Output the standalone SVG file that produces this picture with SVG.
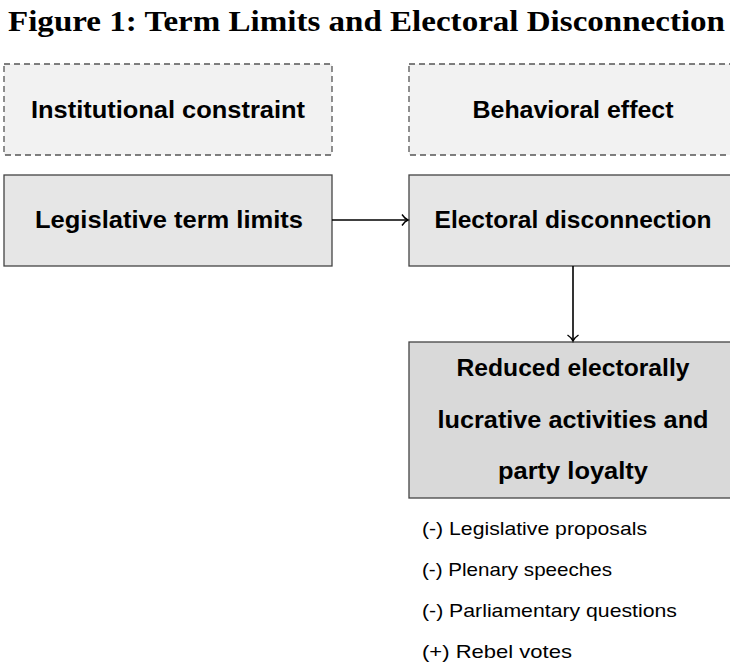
<svg xmlns="http://www.w3.org/2000/svg" width="730" height="665" viewBox="0 0 730 665">
<style>
.title{font-family:"Liberation Serif","Times New Roman",serif;font-weight:bold;font-size:30px;fill:#000}
.lbl{font-family:"Liberation Sans",Arial,sans-serif;font-weight:bold;font-size:24px;fill:#000;text-anchor:middle}
.item{font-family:"Liberation Sans",Arial,sans-serif;font-size:19px;fill:#000}
.hdr{fill:#f2f2f2;stroke:#555;stroke-width:1.3;stroke-dasharray:6,4}
.box{stroke:#444;stroke-width:1.3}
.conn{stroke:#000;stroke-width:1.6;fill:none}
</style>
<defs>
<marker id="arr" markerWidth="10" markerHeight="12" refX="8" refY="6" orient="auto" markerUnits="userSpaceOnUse">
<path d="M2,0.5 Q5,5 8,6 Q5,7 2,11.5" fill="none" stroke="#000" stroke-width="1.4"/>
</marker>
</defs>
<rect width="730" height="665" fill="#fff"/>
<text class="title" x="8" y="31" textLength="717" lengthAdjust="spacingAndGlyphs">Figure 1: Term Limits and Electoral Disconnection</text>
<g id="institutional-constraint">
<rect class="hdr" x="4" y="64" width="328" height="91"/>
<text class="lbl" x="168" y="118" textLength="274" lengthAdjust="spacingAndGlyphs">Institutional constraint</text>
</g>
<g id="behavioral-effect">
<rect class="hdr" x="409" y="64" width="328" height="91"/>
<text class="lbl" x="573" y="118" textLength="201" lengthAdjust="spacingAndGlyphs">Behavioral effect</text>
</g>
<g id="legislative-term-limits">
<rect class="box" x="4" y="175" width="328" height="91" fill="#e6e6e6"/>
<text class="lbl" x="169" y="228" textLength="268" lengthAdjust="spacingAndGlyphs">Legislative term limits</text>
</g>
<g id="electoral-disconnection">
<rect class="box" x="409" y="175" width="328" height="91" fill="#e6e6e6"/>
<text class="lbl" x="573" y="228" textLength="277" lengthAdjust="spacingAndGlyphs">Electoral disconnection</text>
</g>
<g id="reduced-activities">
<rect class="box" x="409" y="342" width="328" height="156" fill="#d9d9d9"/>
<text class="lbl" x="573" y="376" textLength="233" lengthAdjust="spacingAndGlyphs">Reduced electorally</text>
<text class="lbl" x="573" y="428" textLength="271" lengthAdjust="spacingAndGlyphs">lucrative activities and</text>
<text class="lbl" x="573" y="479" textLength="150" lengthAdjust="spacingAndGlyphs">party loyalty</text>
</g>
<g id="outcomes">
<text class="item" x="422" y="535" textLength="225" lengthAdjust="spacingAndGlyphs">(-) Legislative proposals</text>
<text class="item" x="422" y="576" textLength="190" lengthAdjust="spacingAndGlyphs">(-) Plenary speeches</text>
<text class="item" x="422" y="617" textLength="255" lengthAdjust="spacingAndGlyphs">(-) Parliamentary questions</text>
<text class="item" x="422" y="658" textLength="150" lengthAdjust="spacingAndGlyphs">(+) Rebel votes</text>
</g>
<g id="connectors">
<line class="conn" x1="332" y1="220" x2="408" y2="220" marker-end="url(#arr)"/>
<line class="conn" x1="573" y1="266" x2="573" y2="341" marker-end="url(#arr)"/>
</g>
</svg>
